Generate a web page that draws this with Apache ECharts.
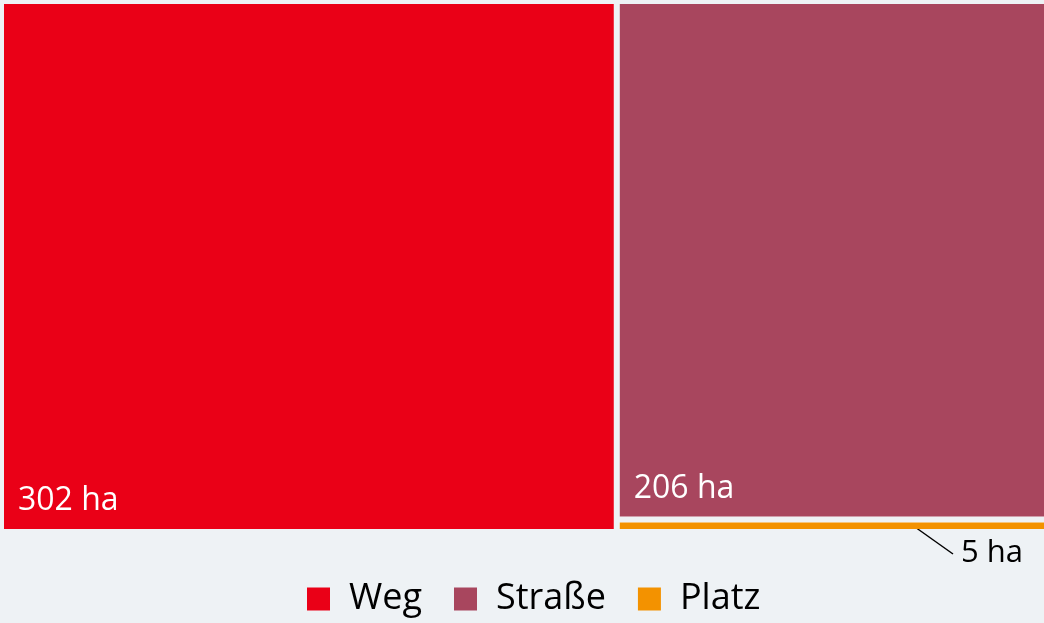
<!DOCTYPE html>
<html>
<head>
<meta charset="utf-8">
<script src="https://cdn.jsdelivr.net/npm/echarts@6/dist/echarts.min.js"></script>
<style>
html,body{margin:0;padding:0;background:#eef2f5;}
#c{width:1044px;height:623px;}
</style>
</head>
<body>
<div id="c"></div>
<script>
const categories = ['Weg', 'Straße', 'Platz'];
const values = [302, 206, 5];
const unit = 'ha';
const colors = ['#ea0017', '#a8465e', '#f39200'];

const FONT = '"Open Sans", sans-serif';
const chart = echarts.init(document.getElementById('c'));

const treeData = categories.map((n, i) => ({
  name: n,
  value: values[i],
  itemStyle: { color: colors[i] },
  label: { show: values[i] > 50 }
}));

chart.setOption({
  backgroundColor: '#eef2f5',
  animation: false,
  legend: {
    data: categories,
    bottom: 1,
    left: 302,
    icon: 'rect',
    itemWidth: 23,
    itemHeight: 23,
    itemGap: 32,
    selectedMode: false,
    textStyle: { fontFamily: FONT, fontSize: 36, color: '#000', padding: [0, 0, 0, 14] }
  },
  series: [
    {
      type: 'treemap',
      left: 4, top: 4, right: 0, bottom: 94,
      roam: false,
      nodeClick: false,
      breadcrumb: { show: false },
      silent: true,
      levels: [
        { itemStyle: { borderWidth: 0, gapWidth: 6, borderColor: '#eef2f5' } },
        { itemStyle: { borderWidth: 0, gapWidth: 0 } }
      ],
      label: {
        position: 'insideBottomLeft',
        fontFamily: FONT,
        fontSize: 32,
        color: '#fff',
        padding: [0, 0, 12, 14],
        formatter: p => p.value + ' ' + unit
      },
      upperLabel: { show: false },
      data: treeData
    },
    {
      type: 'pie',
      radius: [0, 0],
      silent: true,
      label: { show: false },
      labelLine: { show: false },
      data: categories.map((n, i) => ({ name: n, value: values[i], itemStyle: { color: colors[i] } }))
    }
  ],
  graphic: [
    { type: 'line', shape: { x1: 915, y1: 527, x2: 953, y2: 554 }, style: { stroke: '#000', lineWidth: 1.5 } },
    { type: 'text', left: 961, top: 538, style: { text: values[2] + ' ' + unit, font: '31px "Open Sans", sans-serif', fill: '#000' } }
  ]
});
</script>
</body>
</html>
